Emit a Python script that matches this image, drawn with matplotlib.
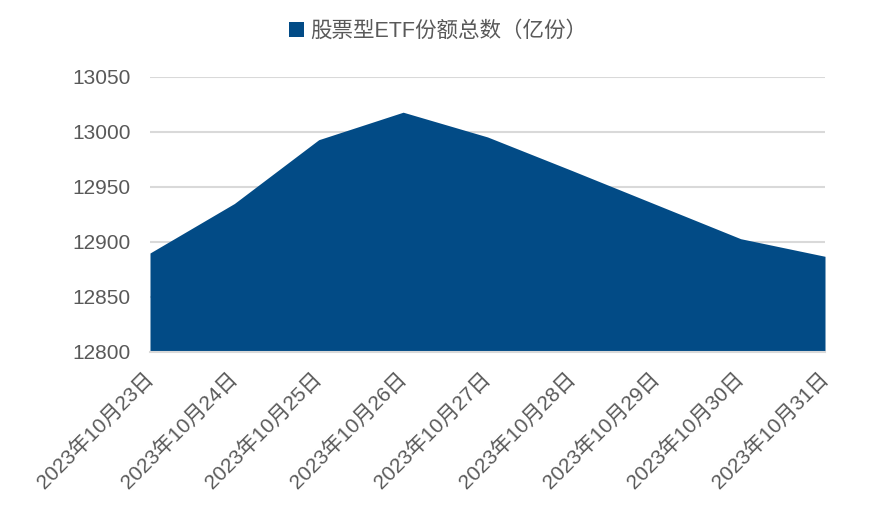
import matplotlib
matplotlib.use("Agg")
import matplotlib.pyplot as plt
import numpy as np

plt.rcParams['font.family'] = ['Liberation Sans', 'Noto Sans CJK SC', 'DejaVu Sans']

dates = ["2023年10月23日", "2023年10月24日", "2023年10月25日", "2023年10月26日", "2023年10月27日",
         "2023年10月28日", "2023年10月29日", "2023年10月30日", "2023年10月31日"]
shares = [12890, 12935, 12993, 13018, 12995.5, 12965, 12934, 12903, 12887]
yticks = [12800, 12850, 12900, 12950, 13000, 13050]
series_name = "股票型ETF份额总数（亿份）"

FILL = "#024b86"; GRID = "#d9d9d9"; TXT = "#595959"

fig = plt.figure(figsize=(8.83, 5.15), dpi=100)
ax = fig.add_axes([150 / 883, 1 - 352 / 515, 675 / 883, 275 / 515])
x = np.arange(len(dates))
ax.fill_between(x, 12800, shares, color=FILL, lw=0, label=series_name, zorder=2)
ax.set_xlim(0, len(dates) - 1); ax.set_ylim(12800, 13050)
ax.set_yticks(yticks)
ax.grid(axis="y", color=GRID, lw=1.5, zorder=0); ax.set_axisbelow(True)
for s in ["top", "right", "left"]:
    ax.spines[s].set_visible(False)
ax.spines["bottom"].set_color(GRID); ax.spines["bottom"].set_linewidth(1.5)
ax.tick_params(axis="y", length=0, pad=14, labelsize=15, labelcolor=TXT)
ax.tick_params(axis="x", length=0, pad=17, labelsize=15, labelcolor=TXT)
ax.set_xticks(x)
ax.set_xticklabels(dates, rotation=45, ha="right", va="center", rotation_mode="anchor")
ax.legend(loc="center", bbox_to_anchor=(0.427, 1.165), frameon=False, fontsize=15.5,
          handlelength=0.7, handleheight=0.7, handletextpad=0.3, labelcolor=TXT)
fig.savefig("out.png", dpi=100)
